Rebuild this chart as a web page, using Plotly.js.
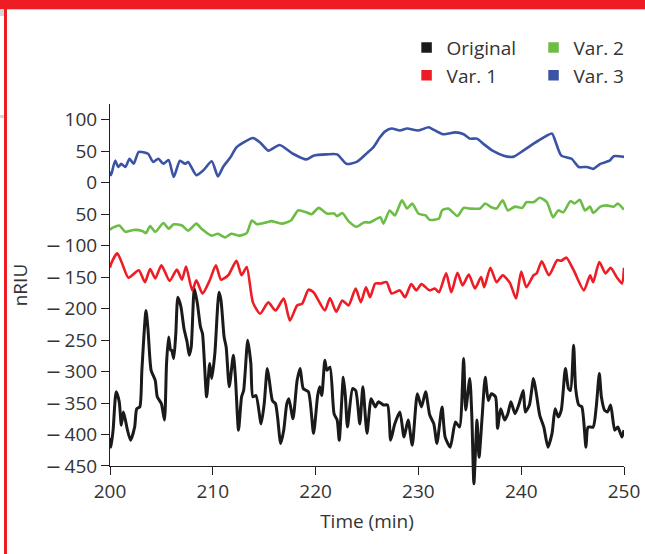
<!DOCTYPE html>
<html>
<head>
<meta charset="utf-8">
<script src="https://cdn.plot.ly/plotly-3.0.1.min.js"></script>
<style>
  html, body { margin:0; padding:0; background:#fff; }
  #wrap { position:relative; width:645px; height:554px; overflow:hidden; }
  #chart { position:absolute; left:0; top:0; width:645px; height:554px; }
  .deco { position:absolute; z-index:5; }
</style>
</head>
<body>
<div id="wrap">
  <div id="chart"></div>
  <div class="deco" style="left:0;top:0;width:645px;height:9px;background:#ee1c25;"></div>
  <div class="deco" style="left:0;top:9px;width:645px;height:1px;background:#f7b9bb;"></div>
  <div class="deco" style="left:4px;top:0;width:3px;height:554px;background:#ee1c25;"></div>
  <div class="deco" style="left:0;top:10px;width:4px;height:6px;background:#d6d6d6;"></div>
  <div class="deco" style="left:0;top:115px;width:4px;height:3px;background:#d6d6d6;"></div>
</div>
<script>
// ---- data ----
const origT = [200.0,200.1,200.3,200.6,200.9,201.1,201.3,201.5,201.7,202.0,202.4,202.6,202.9,203.1,203.5,203.7,204.0,204.4,204.6,205.0,205.3,205.5,205.7,205.9,206.0,206.2,206.4,206.6,206.9,207.2,207.5,207.7,207.9,208.2,208.5,208.8,209.0,209.4,209.7,209.9,210.2,210.6,210.8,211.1,211.3,211.6,212.0,212.2,212.5,212.8,213.0,213.4,213.7,213.9,214.2,214.7,215.0,215.3,215.5,215.8,216.1,216.3,216.6,216.9,217.2,217.4,217.8,218.2,218.5,218.8,219.3,219.8,220.2,220.4,220.6,220.9,221.1,221.4,221.8,222.1,222.3,222.7,222.9,223.1,223.6,223.9,224.3,224.6,225.0,225.4,225.8,226.1,226.6,227.0,227.3,227.7,228.2,228.6,229.0,229.4,229.9,230.3,230.7,231.1,231.5,231.8,232.3,232.6,233.1,233.6,234.0,234.4,234.6,235.0,235.2,235.4,235.7,235.9,236.2,236.5,236.8,237.1,237.5,237.7,238.0,238.4,238.7,239.0,239.4,239.8,240.2,240.4,240.8,241.2,241.5,241.8,242.2,242.6,243.0,243.3,243.6,243.9,244.3,244.6,244.8,245.1,245.3,245.6,245.9,246.3,246.5,247.0,247.3,247.6,247.8,248.1,248.4,248.7,249.1,249.4,249.8,250.0];
const origV = [-405,-420,-393,-332,-348,-385,-364,-377,-393,-409,-388,-359,-356,-298,-203,-234,-298,-314,-340,-351,-377,-287,-245,-266,-266,-279,-240,-182,-197,-232,-253,-274,-261,-168,-192,-229,-240,-340,-287,-311,-271,-174,-187,-245,-261,-324,-274,-309,-393,-340,-330,-250,-287,-340,-338,-383,-351,-295,-314,-346,-351,-372,-414,-393,-351,-343,-375,-314,-295,-327,-332,-398,-338,-324,-338,-282,-298,-293,-367,-377,-409,-309,-340,-388,-327,-330,-383,-324,-398,-343,-356,-348,-353,-353,-409,-383,-364,-404,-377,-417,-335,-356,-332,-369,-383,-414,-356,-404,-420,-380,-388,-279,-361,-311,-372,-478,-377,-436,-372,-309,-346,-335,-340,-390,-359,-377,-367,-348,-367,-351,-330,-364,-353,-311,-338,-369,-388,-420,-398,-359,-372,-361,-295,-327,-330,-258,-327,-353,-356,-420,-388,-388,-356,-303,-340,-361,-364,-353,-393,-388,-404,-393];

const var1T = [200.0,200.1,200.7,201.2,201.8,202.8,203.4,203.9,204.4,205.0,205.8,206.5,207.0,207.4,208.0,208.4,209.0,209.7,210.3,210.8,211.5,212.3,212.8,213.3,213.9,214.6,215.4,216.1,216.9,217.5,218.2,218.7,219.3,219.8,220.9,221.4,222.0,222.6,223.2,223.9,224.4,224.9,225.3,225.8,226.3,226.9,227.4,228.2,228.7,229.3,229.8,230.3,231.1,231.6,232.0,232.7,233.2,233.8,234.3,234.9,235.5,236.1,236.4,237.0,237.6,238.2,238.9,239.5,240.0,240.5,241.2,241.5,242.0,242.7,243.5,243.9,244.4,245.1,246.1,246.7,247.0,247.6,248.2,248.7,249.3,249.8,250.0];
const var1V = [-135,-129,-112,-129,-151,-139,-158,-137,-152,-131,-156,-138,-154,-133,-171,-155,-176,-155,-131,-154,-147,-124,-147,-134,-190,-208,-190,-203,-184,-219,-195,-192,-170,-174,-203,-183,-205,-187,-195,-168,-190,-166,-182,-160,-160,-158,-176,-171,-182,-161,-171,-161,-171,-168,-174,-144,-174,-143,-163,-146,-168,-150,-166,-135,-158,-147,-159,-184,-141,-166,-147,-144,-125,-147,-123,-124,-119,-139,-171,-147,-158,-126,-144,-135,-150,-160,-135];

const var2T = [200.0,200.1,200.9,201.5,202.3,203.2,203.5,203.9,204.4,205.2,205.7,206.2,207.0,207.6,208.4,208.9,209.9,210.5,211.2,211.8,212.6,213.3,213.8,214.3,215.2,215.7,216.7,217.6,218.3,219.1,219.6,220.3,221.1,221.8,222.1,222.6,223.2,224.0,224.7,225.3,226.3,226.6,227.2,227.7,228.4,228.9,229.4,230.0,230.7,231.1,232.0,232.3,232.9,233.8,234.4,235.0,236.0,236.5,237.1,237.6,238.2,238.7,239.4,240.1,240.5,241.2,241.8,242.5,243.1,243.6,244.1,244.8,245.2,245.7,246.2,246.7,247.0,247.7,248.3,249.0,249.4,250.0];
const var2V = [-75,-73,-68,-78,-75,-77,-80,-69,-78,-64,-73,-66,-68,-76,-65,-73,-84,-81,-87,-81,-84,-80,-60,-66,-63,-61,-65,-60,-44,-47,-50,-40,-49,-49,-53,-48,-61,-70,-63,-63,-55,-65,-44,-52,-28,-41,-33,-49,-52,-59,-57,-44,-41,-53,-40,-41,-41,-33,-39,-41,-28,-44,-38,-40,-31,-31,-24,-31,-55,-44,-47,-29,-33,-27,-44,-38,-48,-38,-36,-38,-33,-43];

const var3T = [200.0,200.1,200.5,200.8,201.1,201.5,201.9,202.3,202.8,203.7,204.2,204.7,205.2,205.7,206.2,206.8,207.3,207.6,208.4,209.1,209.9,210.5,211.0,211.7,212.3,213.0,213.9,214.6,215.4,216.5,217.8,219.1,219.8,221.1,222.1,223.0,224.0,225.0,225.6,226.3,226.8,227.4,228.2,228.9,230.0,231.0,231.5,232.4,233.6,234.4,235.0,235.7,236.3,237.3,238.3,239.2,240.2,241.2,242.1,243.0,243.3,243.9,244.9,245.6,246.4,247.0,247.7,248.6,249.0,250.0];
const var3V = [18,12,35,25,30,25,38,30,49,46,33,38,30,36,9,35,30,33,12,20,34,10,25,40,56,64,71,64,51,60,46,37,43,45,45,30,33,47,56,73,82,86,83,86,83,88,84,77,80,77,70,70,62,50,43,41,51,62,71,78,67,43,38,25,25,22,30,35,42,41];

const seriesNames = ['Original', 'Var. 1', 'Var. 2', 'Var. 3'];
const seriesColors = ['#1a1a1a', '#ee1c25', '#6cbd45', '#3a53a4'];

const yTickVals = [100, 50, 0, -50, -100, -150, -200, -250, -300, -350, -400, -450];
const yTickText = ['100', '50', '0', '50', '\u2212100', '\u2212150', '\u2212200', '\u2212250', '\u2212300', '\u2212350', '\u2212400', '\u2212450'];
const xTickVals = [200, 210, 220, 230, 240, 250];

// ---- figure ----
const FONT = '"Open Sans", "DejaVu Sans", sans-serif';
const TXT = '#333333';
const AX = '#231f20';

// wider minus sign (as in the reference) via a DejaVu glyph, followed by a thin gap
const styledTicks = yTickText.map(s => s.charAt(0) === '\u2212'
  ? '<span style="font-family:DejaVu Sans">\u2212</span>\u2009' + s.slice(1)
  : s);

const lineData = [
  {t: origT, v: origV, w: 3},
  {t: var1T, v: var1V, w: 2.6},
  {t: var2T, v: var2V, w: 2.6},
  {t: var3T, v: var3V, w: 2.6}
];

const traces = [];
lineData.forEach((d, i) => {
  traces.push({
    type: 'scatter', mode: 'lines', x: d.t, y: d.v,
    xaxis: 'x', yaxis: 'y',
    line: {color: seriesColors[i], width: d.w, shape: 'spline', smoothing: 0.6},
    showlegend: false, hoverinfo: 'skip'
  });
});
// empty trace so that the visible y axis (y2) gets its subplot
traces.push({type: 'scatter', mode: 'lines', x: [null], y: [null], xaxis: 'x', yaxis: 'y2', showlegend: false, hoverinfo: 'skip'});
// legend entries: column 1 = Original, Var. 1 ; column 2 = Var. 2, Var. 3
seriesNames.forEach((n, i) => {
  traces.push({
    type: 'scatter', mode: 'markers', x: [null], y: [null],
    xaxis: 'x', yaxis: 'y',
    name: n,
    marker: {symbol: 'square', size: 10.5, color: seriesColors[i]},
    legend: (i < 2) ? 'legend' : 'legend2',
    showlegend: true
  });
});

const legendCommon = {
  orientation: 'v', xanchor: 'left', yanchor: 'top',
  bgcolor: 'rgba(0,0,0,0)', borderwidth: 0,
  font: {family: FONT, size: 19, color: TXT},
  itemclick: false, itemdoubleclick: false
};

const layout = {
  width: 645, height: 554,
  paper_bgcolor: '#ffffff', plot_bgcolor: 'rgba(0,0,0,0)',
  margin: {l: 110, r: 21, t: 104, b: 64, pad: 0},
  font: {family: FONT, size: 19, color: TXT},
  showlegend: true,
  legend: Object.assign({x: 0.577, y: 1.195}, legendCommon),
  legend2: Object.assign({x: 0.824, y: 1.195}, legendCommon),
  xaxis: {
    range: [200, 250], anchor: 'y2', domain: [0, 1],
    tickvals: xTickVals, ticks: 'outside', ticklen: 8, tickwidth: 1, tickcolor: AX,
    showline: true, linecolor: AX, linewidth: 1,
    showgrid: false, zeroline: false,
    tickfont: {family: FONT, size: 19, color: TXT},
    title: {text: 'Time (min)', font: {family: FONT, size: 19, color: TXT}, standoff: 11},
    automargin: false
  },
  yaxis: {
    range: [-488, 125], domain: [0, 1], anchor: 'x',
    visible: false, showgrid: false, zeroline: false, fixedrange: true
  },
  yaxis2: {
    range: [-450, 125], domain: [0.0622, 1], anchor: 'x',
    tickvals: yTickVals, ticktext: styledTicks,
    ticks: 'outside', ticklen: 8, tickwidth: 1, tickcolor: AX,
    showline: true, linecolor: AX, linewidth: 1,
    showgrid: false, zeroline: false,
    tickfont: {family: FONT, size: 19, color: TXT},
    title: {text: 'nRIU', font: {family: FONT, size: 19, color: TXT}, standoff: 12},
    automargin: false
  }
};

Plotly.newPlot('chart', traces, layout, {displayModeBar: false, staticPlot: true});
</script>
</body>
</html>
